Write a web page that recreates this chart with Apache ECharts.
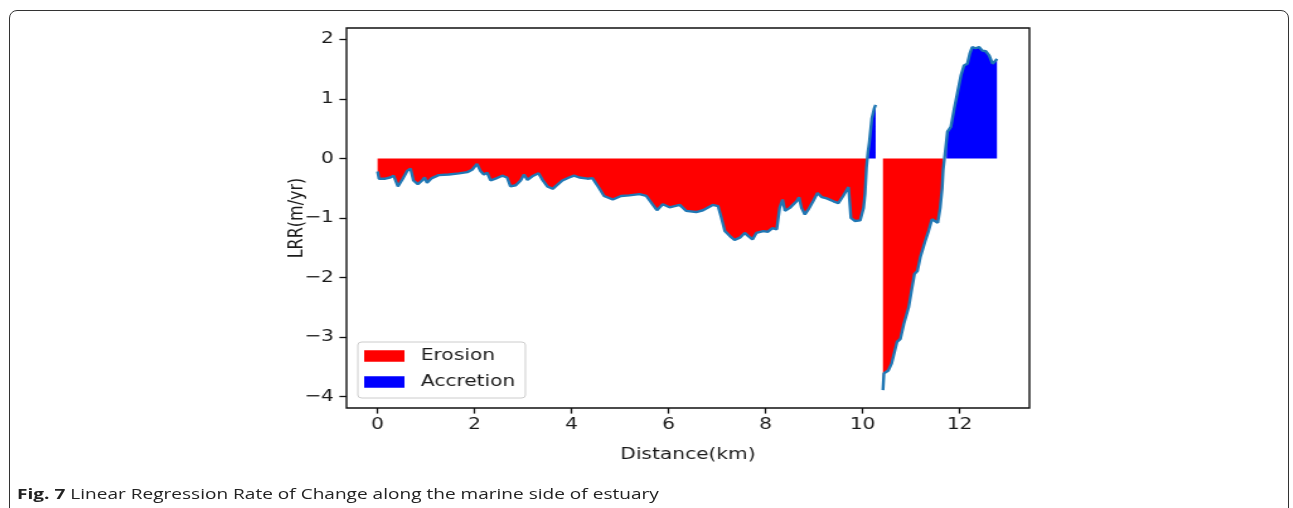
<!DOCTYPE html>
<html>
<head>
<meta charset="utf-8">
<script src="https://cdn.jsdelivr.net/npm/echarts@6/dist/echarts.min.js"></script>
<style>
html, body { margin: 0; padding: 0; background: #fff; }
body { width: 1293px; height: 508px; position: relative; overflow: hidden; }
#frame { position: absolute; left: 9px; top: 10px; width: 1278px; height: 540px; border: 1.5px solid #333; border-radius: 8px; }
/* the original figure is stretched horizontally, so chart and caption are drawn narrower and scaled */
#chart { position: absolute; left: 0; top: 0; width: 1026px; height: 508px; transform: scaleX(1.26); transform-origin: 0 0; }
#caption { position: absolute; left: 17px; top: 484px; font-family: "Open Sans"; font-size: 15px; line-height: 18px; color: #222; white-space: nowrap; transform: scaleX(1.27); transform-origin: 0 0; }
</style>
</head>
<body>
<div id="frame"></div>
<div id="chart"></div>
<div id="caption"><b>Fig. 7</b> Linear Regression Rate of Change along the marine side of estuary</div>
<script>
// distance along the shore (km) and LRR (m/yr), null = gap in the transects
var dist = [0, 0.03, 0.06, 0.16, 0.26, 0.33, 0.42, 0.52, 0.61, 0.68,
	0.74, 0.83, 0.92, 0.97, 1.02, 1.12, 1.26, 1.47, 1.68, 1.85,
	1.95, 2.05, 2.12, 2.19, 2.26, 2.33, 2.43, 2.57, 2.67, 2.74,
	2.85, 2.95, 3.02, 3.09, 3.19, 3.32, 3.40, 3.50, 3.61, 3.71,
	3.81, 3.95, 4.05, 4.16, 4.33, 4.43, 4.57, 4.67, 4.85, 5.02,
	5.19, 5.40, 5.54, 5.67, 5.76, 5.88, 6.02, 6.23, 6.36, 6.57,
	6.71, 6.91, 7.02, 7.09, 7.16, 7.26, 7.36, 7.47, 7.57, 7.64,
	7.73, 7.81, 7.95, 8.05, 8.14, 8.23, 8.29, 8.35, 8.40, 8.50,
	8.64, 8.69, 8.74, 8.81, 8.88, 8.98, 9.07, 9.16, 9.26, 9.40,
	9.50, 9.60, 9.71, 9.76, 9.84, 9.95, 10.02, 10.05, 10.08, 10.11,
	10.14, 10.19, 10.24, 10.27, 10.35, 10.42, 10.44, 10.53, 10.60, 10.71,
	10.78, 10.85, 10.95, 11.02, 11.07, 11.13, 11.19, 11.29, 11.36, 11.43,
	11.48, 11.55, 11.60, 11.64, 11.66, 11.73, 11.75, 11.82, 11.89, 11.96,
	12.03, 12.09, 12.16, 12.21, 12.26, 12.33, 12.40, 12.47, 12.54, 12.61,
	12.68, 12.73, 12.77];
var lrr = [-0.22, -0.34, -0.37, -0.34, -0.32, -0.29, -0.47, -0.34, -0.21, -0.17,
	-0.37, -0.43, -0.37, -0.32, -0.41, -0.33, -0.28, -0.27, -0.25, -0.23,
	-0.19, -0.09, -0.21, -0.27, -0.24, -0.37, -0.34, -0.29, -0.32, -0.47,
	-0.45, -0.37, -0.27, -0.36, -0.30, -0.25, -0.36, -0.47, -0.51, -0.44,
	-0.37, -0.32, -0.29, -0.32, -0.34, -0.33, -0.50, -0.63, -0.69, -0.63,
	-0.62, -0.60, -0.63, -0.77, -0.87, -0.77, -0.82, -0.78, -0.88, -0.90,
	-0.87, -0.78, -0.80, -1.0, -1.22, -1.30, -1.37, -1.33, -1.25, -1.30,
	-1.36, -1.25, -1.22, -1.23, -1.17, -1.19, -0.83, -0.69, -0.88, -0.83,
	-0.72, -0.65, -0.83, -0.94, -0.86, -0.72, -0.58, -0.65, -0.67, -0.72,
	-0.75, -0.63, -0.48, -1.0, -1.05, -1.04, -0.83, -0.6, -0.15, 0.1,
	0.28, 0.67, 0.84, 0.9, null, -3.89, -3.61, -3.56, -3.44, -3.08,
	-3.03, -2.78, -2.50, -2.17, -1.94, -1.89, -1.66, -1.39, -1.22, -1.02,
	-1.0, -1.08, -0.83, -0.50, -0.2, 0.3, 0.45, 0.53, 0.84, 1.12,
	1.40, 1.56, 1.59, 1.76, 1.87, 1.85, 1.87, 1.81, 1.80, 1.73,
	1.59, 1.63, 1.67];
var xTicks = [0, 2, 4, 6, 8, 10, 12];
var yTicks = [-4, -3, -2, -1, 0, 1, 2];

var lineData = [], erosionData = [], accretionData = [];
for (var i = 0; i < dist.length; i++) {
	var v = lrr[i];
	lineData.push([dist[i], v]);
	erosionData.push([dist[i], (v !== null && v <= 0) ? v : null]);
	accretionData.push([dist[i], (v !== null && v > 0) ? v : null]);
}

var font = 'DejaVu Sans';
var ink = '#1a1a1a';
var myChart = echarts.init(document.getElementById('chart'));
var option = {
	animation : false,
	grid : {
		left : 275, right : 209, top : 28, bottom : 100,
		show : true, borderColor : '#111', borderWidth : 1.4
	},
	legend : {
		orient : 'vertical',
		left : 284, top : 342,
		padding : [6, 8, 8, 5],
		itemWidth : 32, itemHeight : 11.5, itemGap : 10,
		icon : 'rect',
		backgroundColor : 'rgba(255,255,255,0.8)',
		borderColor : '#cccccc', borderWidth : 1, borderRadius : 3,
		textStyle : { fontFamily : font, fontSize : 16, color : ink, padding : [0, 0, 0, 8] },
		data : ['Erosion', 'Accretion']
	},
	xAxis : {
		type : 'value', min : -0.64, max : 13.44,
		name : 'Distance(km)', nameLocation : 'middle', nameGap : 39,
		nameTextStyle : { fontFamily : font, fontSize : 16, color : ink },
		axisLine : { show : false, onZero : false },
		axisTick : { show : true, length : 5.6, lineStyle : { color : '#111', width : 1.3 }, customValues : xTicks },
		axisLabel : { customValues : xTicks, margin : 9, fontFamily : font, fontSize : 16, color : ink },
		splitLine : { show : false }
	},
	yAxis : {
		type : 'value', min : -4.19, max : 2.19,
		name : 'LRR(m/yr)', nameLocation : 'middle', nameGap : 31, nameMoveOverlap : false,
		nameTextStyle : { fontFamily : font, fontSize : 16, color : ink },
		axisLine : { show : false, onZero : false },
		axisTick : { show : true, length : 5.6, lineStyle : { color : '#111', width : 1.3 }, customValues : yTicks },
		axisLabel : {
			customValues : yTicks, margin : 10, fontFamily : font, fontSize : 16, color : ink,
			formatter : function(v) { return String(v).replace('-', '\u2212'); }
		},
		splitLine : { show : false }
	},
	series : [ {
		name : 'Erosion', type : 'line', data : erosionData,
		showSymbol : false, symbol : 'none', color : '#ff0000',
		lineStyle : { width : 0 }, areaStyle : { color : '#ff0000', opacity : 1 }
	}, {
		name : 'Accretion', type : 'line', data : accretionData,
		showSymbol : false, symbol : 'none', color : '#0000ff',
		lineStyle : { width : 0 }, areaStyle : { color : '#0000ff', opacity : 1 }
	}, {
		name : 'LRR', type : 'line', data : lineData,
		showSymbol : false, symbol : 'none', color : '#1f77b4',
		lineStyle : { width : 2.4, color : '#1f77b4' }, z : 5
	} ]
};
myChart.setOption(option);
</script>
</body>
</html>
